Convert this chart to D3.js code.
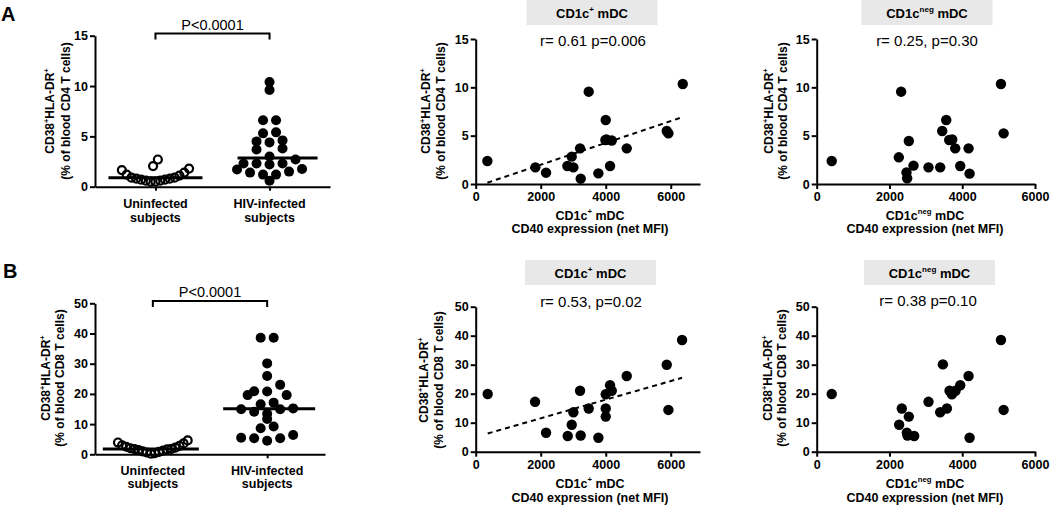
<!DOCTYPE html>
<html><head><meta charset="utf-8">
<script src="https://cdn.jsdelivr.net/npm/d3@7"></script>
<style>
body{margin:0;background:#fff}
svg{display:block}
text{font-family:"Liberation Sans",Arial,Helvetica,sans-serif;fill:#000}
</style>
</head><body>
<svg id="chart" width="1050" height="505"></svg>
<script>
// ---------------- DATA ----------------
const groupCategories = ["Uninfected", "HIV-infected"];
const cd4Uninfected = [0.5, 0.5, 0.6, 0.6, 0.7, 0.7, 0.8, 0.8, 0.9, 0.9, 1.1, 1.2, 1.4, 1.65, 1.8, 2.05, 2.7];
const cd4HivInfected = [0.6, 1.2, 1.2, 1.4, 1.5, 1.7, 1.75, 2.2, 2.3, 2.3, 2.3, 2.7, 3.0, 3.7, 3.8, 4.4, 4.5, 4.6, 5.3, 5.4, 6.6, 6.6, 9.6, 10.4];
const cd8Uninfected = [0.2, 0.4, 0.6, 0.8, 1.0, 1.2, 1.4, 1.6, 1.7, 1.8, 2.0, 2.2, 2.5, 2.8, 3.0, 3.6, 3.9, 4.6];
const cd8HivInfected = [4.5, 5.3, 5.3, 5.5, 6.4, 8.6, 9.2, 11.7, 13.4, 14.1, 14.9, 14.9, 15.2, 16.6, 17.1, 19.6, 19.6, 20.8, 20.9, 23.0, 25.9, 30.1, 38.6, 38.6];

// CD1c+ mDC CD40 expression (net MFI) vs CD4 / CD8 activation
const cd1cPosMfiCd4 = [359, 1836, 2164, 2820, 2954, 3005, 3210, 3230, 3477, 3774, 4000, 3990, 4020, 4133, 4185, 4646, 5877, 5928, 6369];
const cd1cPosCd4 = [2.38, 1.72, 1.17, 1.86, 2.83, 1.72, 3.69, 0.55, 9.55, 1.1, 6.62, 4.55, 4.6, 1.86, 4.5, 3.69, 5.48, 5.24, 10.34];
const cd1cPosMfiCd8 = [369, 1826, 2164, 2831, 2954, 3005, 3210, 3230, 3477, 3774, 4000, 4000, 4000, 4133, 4185, 4646, 5877, 5928, 6349];
const cd1cPosCd8 = [19.9, 17.2, 6.55, 5.4, 9.3, 13.6, 21.0, 5.6, 14.9, 4.8, 14.9, 12.1, 19.8, 22.9, 21.0, 26.1, 30.0, 14.4, 38.5];

// CD1c neg mDC
const cd1cNegMfiCd4 = [413, 2257, 2321, 2532, 2468, 2486, 2661, 3073, 3394, 3450, 3560, 3642, 3725, 3807, 3945, 4174, 4202, 5064, 5138];
const cd1cNegCd4 = [2.38, 2.76, 9.55, 4.45, 1.2, 0.59, 1.9, 1.72, 1.72, 5.48, 6.62, 4.55, 4.6, 3.69, 1.86, 3.69, 1.07, 10.34, 5.24];
const cd1cNegMfiCd8 = [413, 2266, 2339, 2532, 2477, 2495, 2679, 3073, 3394, 3468, 3578, 3651, 3716, 3817, 3945, 4174, 4202, 5064, 5138];
const cd1cNegCd8 = [19.9, 9.3, 14.9, 12.1, 6.55, 5.6, 5.4, 17.2, 13.6, 30.1, 14.9, 21.0, 19.8, 21.0, 22.9, 26.1, 4.8, 38.5, 14.4];

// linear fit lines [slope, intercept]
const fitCd1cPosCd4 = [0.00113, -0.27];
const fitCd1cPosCd8 = [0.00321, 5.1];

// tick values
const cd4Ticks = [0, 5, 10, 15];
const cd8Ticks = [0, 10, 20, 30, 40, 50];
const mfiTicks = [0, 2000, 4000, 6000];

// texts
const statsTexts = ["r= 0.61 p=0.006", "r= 0.25, p=0.30", "r= 0.53, p=0.02", "r= 0.38 p=0.10"];
const pValueText = "P<0.0001";

// ---------------- DRAWING ----------------
const svg = d3.select("#chart");
const FONT_B = "bold";

function rich(sel, parts, size) {
  let sup = false;
  parts.forEach(([s, isSup]) => {
    const t = sel.append("tspan").text(s);
    if (isSup && !sup) { t.attr("dy", -size * 0.42).attr("font-size", size * 0.62); }
    else if (!isSup && sup) { t.attr("dy", size * 0.42).attr("font-size", size); }
    else if (isSup) { t.attr("font-size", size * 0.62); }
    sup = isSup;
  });
  return sel;
}

function yTitle(cx1, cx2, cy, cell) {
  const fs = 12;
  const t1 = svg.append("text").attr("transform", `translate(${cx1},${cy}) rotate(-90)`)
    .attr("text-anchor", "middle").attr("font-size", fs).attr("font-weight", FONT_B);
  rich(t1, [["CD38", false], ["+", true], ["HLA-DR", false], ["+", true]], fs);
  svg.append("text").attr("transform", `translate(${cx2},${cy}) rotate(-90)`)
    .attr("text-anchor", "middle").attr("font-size", fs).attr("font-weight", FONT_B)
    .text(`(% of blood ${cell} T cells)`);
}

function styleAxis(g) {
  g.selectAll("path.domain").attr("stroke", "#000").attr("stroke-width", 2);
  g.selectAll(".tick line").attr("stroke", "#000").attr("stroke-width", 2);
  g.selectAll(".tick text").attr("font-size", 12.5).attr("font-weight", FONT_B)
    .attr("font-family", '"Liberation Sans",Arial,sans-serif').attr("fill", "#000");
}

// Prism-like scatter column: bin by pixel rows, spread each row, lowest values in the middle
function binnedColumn(values, yScale, binPx, spacing) {
  const y0 = yScale(0);
  const pts = values.map(v => ({ v, y: yScale(v) }));
  const bins = d3.groups(pts, p => Math.floor((y0 - p.y) / binPx));
  bins.forEach(([, arr]) => {
    arr.sort((a, b) => a.v - b.v);
    const n = arr.length;
    const slots = d3.range(n).map(i => (i - (n - 1) / 2) * spacing)
      .sort((a, b) => Math.abs(a) - Math.abs(b) || a - b);
    arr.forEach((p, i) => { p.dx = slots[i]; });
  });
  return pts;
}

function dotPlot(cfg) {
  const x = d3.scalePoint().domain(groupCategories).range(cfg.xRange).padding(cfg.pad);
  const y = d3.scaleLinear().domain([0, cfg.ticks[cfg.ticks.length - 1]]).range(cfg.yRange);
  const gx = svg.append("g").attr("transform", `translate(0,${cfg.yRange[0]})`)
    .call(d3.axisBottom(x).tickSize(4).tickSizeOuter(0).tickFormat(""));
  styleAxis(gx);
  const gy = svg.append("g").attr("transform", `translate(${cfg.xRange[0]},0)`)
    .call(d3.axisLeft(y).tickValues(cfg.ticks).tickSize(5).tickPadding(2).tickSizeOuter(0));
  styleAxis(gy);
  groupCategories.forEach(c => {
    const t = svg.append("text").attr("x", x(c)).attr("text-anchor", "middle")
      .attr("font-size", 12.5).attr("font-weight", FONT_B);
    t.append("tspan").attr("x", x(c)).attr("y", cfg.catY[0]).text(c);
    t.append("tspan").attr("x", x(c)).attr("y", cfg.catY[1]).text("subjects");
  });
  const uni = binnedColumn(cfg.uninf, y, cfg.binU[0], cfg.binU[1]);
  svg.append("g").selectAll("circle").data(uni).join("circle")
    .attr("cx", d => x(groupCategories[0]) + d.dx).attr("cy", d => d.y)
    .attr("r", 4).attr("fill", "none").attr("stroke", "#000").attr("stroke-width", 2.2);
  const hiv = binnedColumn(cfg.hiv, y, cfg.binH[0], cfg.binH[1]);
  svg.append("g").selectAll("circle").data(hiv).join("circle")
    .attr("cx", d => x(groupCategories[1]) + d.dx).attr("cy", d => d.y)
    .attr("r", 5).attr("fill", "#000");
  [cfg.uninf, cfg.hiv].forEach((vals, i) => {
    const cxm = x(groupCategories[i]) + cfg.medShift[i];
    const m = d3.median(vals);
    svg.append("line").attr("x1", cxm - cfg.medHalf[i]).attr("x2", cxm + cfg.medHalf[i])
      .attr("y1", y(m)).attr("y2", y(m)).attr("stroke", "#000").attr("stroke-width", 3);
  });
  const x1 = x(groupCategories[0]), x2 = x(groupCategories[1]);
  svg.append("path").attr("d", `M${x1},${cfg.brY + 6}V${cfg.brY}H${x2}V${cfg.brY + 6}`)
    .attr("fill", "none").attr("stroke", "#000").attr("stroke-width", 2);
  svg.append("text").attr("x", (x1 + x2) / 2).attr("y", cfg.brY - 4).attr("text-anchor", "middle")
    .attr("font-size", 14.5).attr("fill", "#222").text(pValueText);
  yTitle(cfg.yt[0], cfg.yt[1], cfg.yt[2], cfg.cell);
}

function scatter(cfg) {
  const x = d3.scaleLinear().domain(cfg.xDomain).range(cfg.xRange);
  const y = d3.scaleLinear().domain([0, cfg.ticks[cfg.ticks.length - 1]]).range(cfg.yRange);
  const gx = svg.append("g").attr("transform", `translate(0,${cfg.yRange[0]})`)
    .call(d3.axisBottom(x).tickValues(mfiTicks).tickFormat(d3.format("d"))
      .tickSize(5).tickPadding(3).tickSizeOuter(0));
  styleAxis(gx);
  const gy = svg.append("g").attr("transform", `translate(${cfg.xRange[0]},0)`)
    .call(d3.axisLeft(y).tickValues(cfg.ticks).tickSize(5).tickPadding(2).tickSizeOuter(0));
  styleAxis(gy);
  if (cfg.fit) {
    const xs = d3.extent(cfg.xs);
    svg.append("line").attr("x1", x(xs[0])).attr("x2", x(xs[1]))
      .attr("y1", y(cfg.fit[0] * xs[0] + cfg.fit[1])).attr("y2", y(cfg.fit[0] * xs[1] + cfg.fit[1]))
      .attr("stroke", "#000").attr("stroke-width", 2).attr("stroke-dasharray", "5,4");
  }
  svg.append("g").selectAll("circle").data(cfg.xs.map((v, i) => [v, cfg.ys[i]])).join("circle")
    .attr("cx", d => x(d[0])).attr("cy", d => y(d[1])).attr("r", 5.2).attr("fill", "#000");
  svg.append("rect").attr("x", cfg.box[0]).attr("y", cfg.box[1]).attr("width", 131).attr("height", 25)
    .attr("fill", "#e8e8e8");
  const hcx = cfg.box[0] + 65.5;
  const ht = svg.append("text").attr("x", hcx).attr("y", cfg.box[1] + 17.5).attr("text-anchor", "middle")
    .attr("font-size", 13).attr("font-weight", FONT_B);
  rich(ht, [["CD1c", false], [cfg.sup, true], [" mDC", false]], 13);
  svg.append("text").attr("x", cfg.stat[0]).attr("y", cfg.stat[1]).attr("text-anchor", "middle")
    .attr("font-size", 15).attr("fill", "#333").text(cfg.statText);
  const cxT = cfg.titleX;
  const t1 = svg.append("text").attr("x", cxT).attr("y", cfg.xt[0]).attr("text-anchor", "middle")
    .attr("font-size", 12.5).attr("font-weight", FONT_B);
  rich(t1, [["CD1c", false], [cfg.sup, true], [" mDC", false]], 12.5);
  svg.append("text").attr("x", cxT).attr("y", cfg.xt[1]).attr("text-anchor", "middle")
    .attr("font-size", 12.5).attr("font-weight", FONT_B).text("CD40 expression (net MFI)");
  yTitle(cfg.yt[0], cfg.yt[1], cfg.yt[2], cfg.cell);
}

svg.append("text").attr("x", 1).attr("y", 21).attr("font-size", 20).attr("font-weight", FONT_B).text("A");
svg.append("text").attr("x", 3).attr("y", 278).attr("font-size", 20).attr("font-weight", FONT_B).text("B");

// Row A
dotPlot({ xRange: [95, 330], pad: 0.53, yRange: [186.7, 35.7], ticks: cd4Ticks,
  uninf: cd4Uninfected, hiv: cd4HivInfected, binU: [19, 4.8], binH: [10, 13],
  medHalf: [47, 40], medShift: [0, 8],
  catY: [207.5, 221.5], brY: 33.5, yt: [54, 70, 111], cell: "CD4" });
scatter({ xDomain: [0, 6900], xRange: [475.7, 700], yRange: [184, 39], ticks: cd4Ticks,
  xs: cd1cPosMfiCd4, ys: cd1cPosCd4, fit: fitCd1cPosCd4, box: [526.5, 0], stat: [593, 46],
  statText: statsTexts[0], sup: "+", titleX: 590, xt: [219.5, 233], yt: [430, 445, 111], cell: "CD4" });
scatter({ xDomain: [0, 6000], xRange: [816.7, 1035], yRange: [184, 39], ticks: cd4Ticks,
  xs: cd1cNegMfiCd4, ys: cd1cNegCd4, fit: null, box: [861.5, 0], stat: [927, 46],
  statText: statsTexts[1], sup: "neg", titleX: 925, xt: [219.5, 233], yt: [773, 787, 111], cell: "CD4" });

// Row B
dotPlot({ xRange: [95, 325], pad: 0.506, yRange: [454.3, 303.3], ticks: cd8Ticks,
  uninf: cd8Uninfected, hiv: cd8HivInfected, binU: [15, 4.1], binH: [10, 13],
  medHalf: [48, 46], medShift: [-2, 2],
  catY: [474.5, 488], brY: 301, yt: [50, 64, 378], cell: "CD8" });
scatter({ xDomain: [0, 6900], xRange: [475.7, 700], yRange: [451.7, 306.7], ticks: cd8Ticks,
  xs: cd1cPosMfiCd8, ys: cd1cPosCd8, fit: fitCd1cPosCd8, box: [525, 260], stat: [591, 307],
  statText: statsTexts[2], sup: "+", titleX: 590, xt: [487.5, 502], yt: [428, 443, 380], cell: "CD8" });
scatter({ xDomain: [0, 6000], xRange: [816.7, 1035], yRange: [451.7, 306.7], ticks: cd8Ticks,
  xs: cd1cNegMfiCd8, ys: cd1cNegCd8, fit: null, box: [864, 260], stat: [928, 306],
  statText: statsTexts[3], sup: "neg", titleX: 925, xt: [487.5, 502], yt: [772, 786, 378], cell: "CD8" });
</script>
</body></html>
